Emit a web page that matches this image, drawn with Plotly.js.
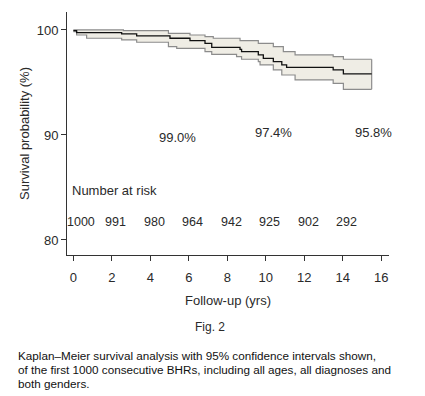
<!DOCTYPE html>
<html>
<head>
<meta charset="utf-8">
<script src="https://cdn.plot.ly/plotly-3.0.1.min.js"></script>
<style>
html,body{margin:0;padding:0;background:#fff;}
#chart{width:425px;height:396px;}
</style>
</head>
<body>
<div id="chart"></div>
<script>
// Kaplan-Meier estimate (years, survival %)
var kmYears = [0, 0.17, 2.51, 3.29, 5.02, 6.06, 6.84, 7.19, 8.66, 8.74, 9.61, 9.87, 10.39, 10.83, 11.08, 13.5, 14.03, 15.5];
var kmSurv  = [99.94, 99.75, 99.62, 99.43, 99.21, 98.98, 98.73, 98.35, 98.16, 97.94, 97.62, 97.3, 96.98, 96.67, 96.44, 96.19, 95.81, 95.81];
// Upper 95% CI
var upYears = [0, 2.6, 4.94, 6.06, 6.84, 7.27, 8.66, 9.61, 10.39, 10.91, 11.52, 13.5, 14.03, 15.5];
var upSurv  = [100, 99.94, 99.68, 99.52, 99.37, 99.21, 98.98, 98.73, 98.41, 97.94, 97.62, 97.46, 97.21, 97.21];
// Lower 95% CI
var loYears = [0, 0.17, 0.69, 2.51, 3.29, 4.94, 5.37, 6.84, 7.19, 8.48, 8.74, 9.61, 9.7, 10.39, 10.83, 11.52, 13.5, 14.03, 15.5];
var loSurv  = [99.84, 99.52, 99.21, 99.05, 98.83, 98.41, 98.25, 97.94, 97.68, 97.46, 97.21, 96.98, 96.67, 96.19, 95.71, 95.24, 94.92, 94.35, 94.35];
// Survival labels
var survLabels = ["99.0%", "97.4%", "95.8%"];
var survLabelYears = [5.4, 10.4, 15.6];
var survLabelY = [89.8, 90.2, 90.2];
// Number at risk
var riskYears = [0, 2, 4, 6, 8, 10, 12, 14];
var riskCounts = [1000, 991, 980, 964, 942, 925, 902, 292];
var xTicks = [0, 2, 4, 6, 8, 10, 12, 14, 16];
var yTicks = [80, 90, 100];
// Caption
var captionLines = [
  'Kaplan–Meier survival analysis with 95% confidence intervals shown,',
  'of the first 1000 consecutive BHRs, including all ages, all diagnoses and',
  'both genders.'
];

var ciColor = '#8c8c8c';
var fillColor = '#efede5';
var font = 'Liberation Sans, Arial, sans-serif';
var txt = '#2a2a2a';

var traces = [
  {x: loYears, y: loSurv, mode: 'lines', line: {shape: 'hv', color: ciColor, width: 1.2}, hoverinfo: 'skip'},
  {x: upYears, y: upSurv, mode: 'lines', line: {shape: 'hv', color: ciColor, width: 1.2}, fill: 'tonexty', fillcolor: fillColor, hoverinfo: 'skip'},
  {x: [upYears[upYears.length-1], loYears[loYears.length-1]], y: [upSurv[upSurv.length-1], loSurv[loSurv.length-1]], mode: 'lines', line: {color: ciColor, width: 1.2}, hoverinfo: 'skip'},
  {x: kmYears, y: kmSurv, mode: 'lines', line: {shape: 'hv', color: '#111', width: 1.3}, hoverinfo: 'skip'}
];

var L = 67, R = 36, T = 12, B = 141, W = 425, H = 396;
var pw = W - L - R, ph = H - T - B;
function px(x){ return (x - L) / pw; }
function py(y){ return 1 - (y - T) / ph; }

var ann = [];
survLabels.forEach(function(s, i){
  ann.push({x: survLabelYears[i], y: survLabelY[i], xref: 'x', yref: 'y', text: s, showarrow: false, font: {family: font, size: 13, color: txt}});
});
ann.push({x: -0.17, y: 84.76, xref: 'x', yref: 'y', text: 'Number at risk', xanchor: 'left', showarrow: false, font: {family: font, size: 13, color: txt}});
riskYears.forEach(function(t, i){
  ann.push({x: t, y: 81.7, xref: 'x', yref: 'y', text: String(riskCounts[i]), showarrow: false, xshift: i === 0 ? 8 : 4, font: {family: font, size: 12.5, color: txt}});
});
ann.push({x: px(210), y: py(327), xref: 'paper', yref: 'paper', yanchor: 'middle', text: 'Fig. 2', showarrow: false, font: {family: font, size: 12, color: txt}});
captionLines.forEach(function(s, i){
  ann.push({x: px(16), y: py(355 + 14 * i), xref: 'paper', yref: 'paper', xanchor: 'left', yanchor: 'middle', showarrow: false,
    text: s, font: {family: font, size: 11.7, color: '#111'}});
});

var layout = {
  width: W, height: H,
  margin: {l: L, r: R, t: T, b: B},
  paper_bgcolor: '#fff', plot_bgcolor: '#fff',
  showlegend: false,
  font: {family: font, color: txt, size: 12},
  xaxis: {
    range: [-0.33, 16.4], tickvals: xTicks, ticktext: xTicks.map(String),
    showgrid: false, zeroline: false, showline: true, linecolor: '#333', linewidth: 1,
    ticks: 'outside', ticklen: 5, tickcolor: '#333', ticklabelstandoff: 5,
    tickfont: {family: font, size: 13, color: txt},
    title: {text: 'Follow-up (yrs)', font: {family: font, size: 13, color: txt}, standoff: 12}
  },
  yaxis: {
    range: [78.57, 101.71], tickvals: yTicks, ticktext: yTicks.map(String),
    showgrid: false, zeroline: false, showline: true, linecolor: '#333', linewidth: 1,
    ticks: 'outside', ticklen: 5, tickcolor: '#333', tickfont: {family: font, size: 13, color: txt},
    title: {text: 'Survival probability (%)', font: {family: font, size: 13, color: txt}, standoff: 4}
  },
  annotations: ann
};

Plotly.newPlot('chart', traces, layout, {displayModeBar: false, staticPlot: true});
</script>
</body>
</html>
